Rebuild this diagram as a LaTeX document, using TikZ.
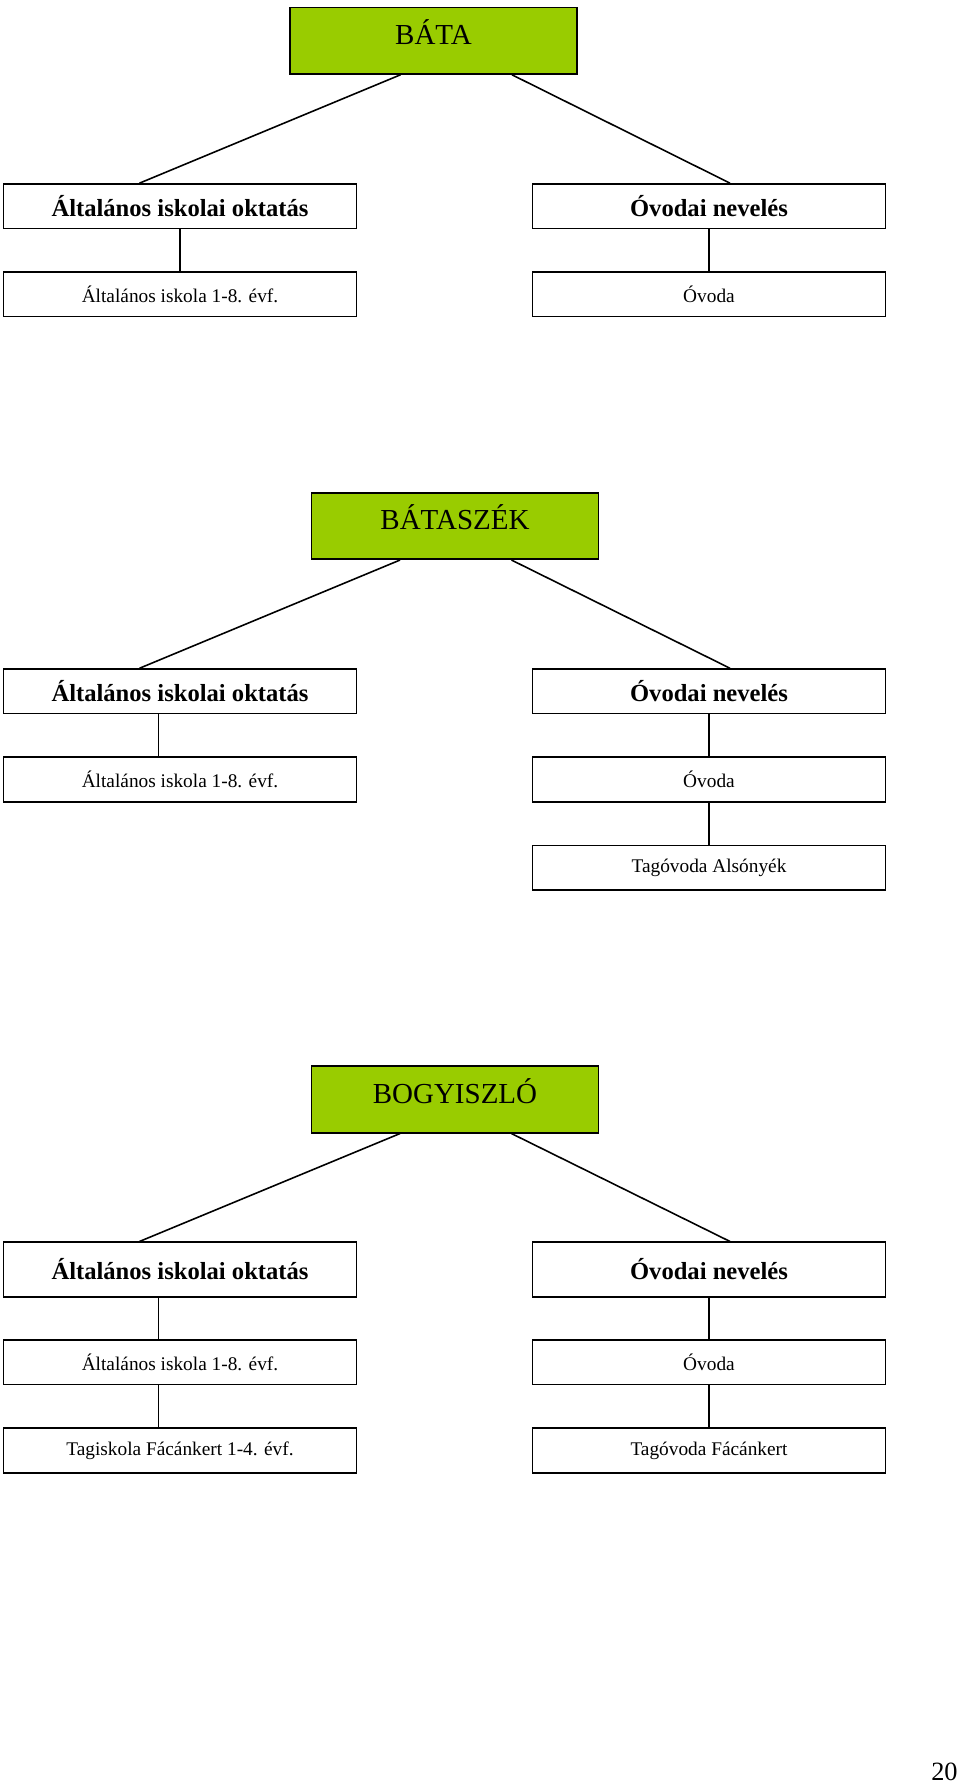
\documentclass[tikz,border=0pt]{standalone}
\usepackage{fontspec}
\setmainfont{Liberation Serif}
\usepackage{tikz}
\definecolor{varoszold}{RGB}{153,204,0}
\tikzstyle{doboz}=[draw, line width=0.9pt, inner sep=0pt, minimum width=7.06cm, minimum height=0.89cm]
\tikzstyle{telepules}=[doboz, fill=varoszold, minimum width=5.74cm, minimum height=1.33cm, text height=0.7em, text depth=0.3em, font=\fontsize{16.5}{20}\selectfont]
\tikzstyle{agazat}=[doboz, font=\fontsize{14}{17}\selectfont\bfseries]
\tikzstyle{intezmeny}=[doboz, font=\fontsize{11}{13}\selectfont]
\tikzstyle{vonal}=[line width=0.9pt]

\begin{document}
\begin{tikzpicture}
        \useasboundingbox (0, 0) rectangle (19.2, -35.68);
        % Bata
        \node[telepules] (bata) at (8.67, -0.815) {BÁTA};
        \node[agazat] (baIsk) at (3.6, -4.124) {Általános iskolai oktatás};
        \node[agazat] (baOv) at (14.18, -4.124) {Óvodai nevelés};
        \node[intezmeny] (baIskA) at (3.6, -5.886) {Általános iskola 1-8. évf.};
        \node[intezmeny] (baOvA) at (14.18, -5.886) {Óvoda};
        \draw[vonal] ([xshift=-0.66cm]bata.south) -- ([xshift=-0.81cm]baIsk.north);
        \draw[vonal] ([xshift=1.57cm]bata.south) -- ([xshift=0.42cm]baOv.north);
        \draw[vonal] (baIsk.south) -- (baIskA.north);
        \draw[vonal] (baOv.south) -- (baOvA.north);
        % Bataszek
        \node[telepules] (bsz) at (9.1, -10.52) {BÁTASZÉK};
        \node[agazat] (bszIsk) at (3.6, -13.826) {Általános iskolai oktatás};
        \node[agazat] (bszOv) at (14.18, -13.826) {Óvodai nevelés};
        \node[intezmeny] (bszIskA) at (3.6, -15.59) {Általános iskola 1-8. évf.};
        \node[intezmeny] (bszOvA) at (14.18, -15.59) {Óvoda};
        \node[intezmeny] (bszOvB) at (14.18, -17.356) {Tagóvoda Alsónyék};
        \draw[vonal] ([xshift=-1.1cm]bsz.south) -- ([xshift=-0.81cm]bszIsk.north);
        \draw[vonal] ([xshift=1.13cm]bsz.south) -- ([xshift=0.42cm]bszOv.north);
        \draw[vonal] ([xshift=-0.43cm]bszIsk.south) -- ([xshift=-0.43cm]bszIskA.north);
        \draw[vonal] (bszOv.south) -- (bszOvA.north);
        \draw[vonal] (bszOvA.south) -- (bszOvB.north);
        % Bogyiszlo
        \node[telepules] (bogy) at (9.1, -21.99) {BOGYISZLÓ};
        \node[agazat, minimum height=1.09cm] (bogyIsk) at (3.6, -25.39) {Általános iskolai oktatás};
        \node[agazat, minimum height=1.09cm] (bogyOv) at (14.18, -25.39) {Óvodai nevelés};
        \node[intezmeny] (bogyIskA) at (3.6, -27.244) {Általános iskola 1-8. évf.};
        \node[intezmeny] (bogyOvA) at (14.18, -27.244) {Óvoda};
        \node[intezmeny] (bogyIskB) at (3.6, -29.01) {Tagiskola Fácánkert 1-4. évf.};
        \node[intezmeny] (bogyOvB) at (14.18, -29.01) {Tagóvoda Fácánkert};
        \draw[vonal] ([xshift=-1.1cm]bogy.south) -- ([xshift=-0.81cm]bogyIsk.north);
        \draw[vonal] ([xshift=1.13cm]bogy.south) -- ([xshift=0.42cm]bogyOv.north);
        \draw[vonal] ([xshift=-0.43cm]bogyIsk.south) -- ([xshift=-0.43cm]bogyIskA.north);
        \draw[vonal] ([xshift=-0.43cm]bogyIskA.south) -- ([xshift=-0.43cm]bogyIskB.north);
        \draw[vonal] (bogyOv.south) -- (bogyOvA.north);
        \draw[vonal] (bogyOvA.south) -- (bogyOvB.north);
        % oldalszam
        \node[anchor=base east, inner sep=0pt, font=\fontsize{15}{18}\selectfont] (oldal) at (19.16, -35.6) {20};
    \end{tikzpicture}
\end{document}
